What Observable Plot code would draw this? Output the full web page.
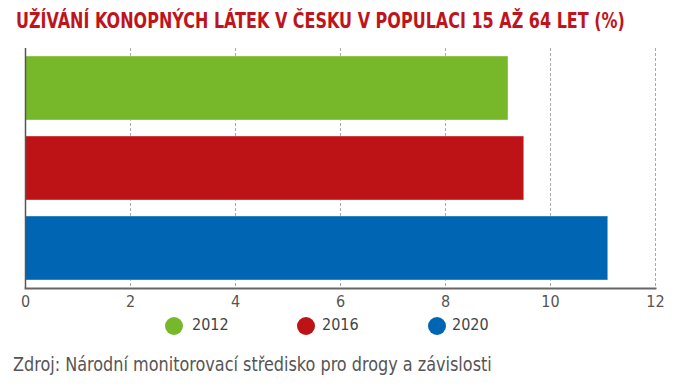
<!DOCTYPE html>
<html><head><meta charset="utf-8">
<script src="https://cdn.jsdelivr.net/npm/d3@7"></script>
<script src="https://cdn.jsdelivr.net/npm/@observablehq/plot@0.6"></script>
<style>
body{margin:0;background:#fff;width:674px;height:387px;overflow:hidden;position:relative;font-family:"DejaVu Sans Condensed",sans-serif;}
#title{position:absolute;top:0;left:0;}
#legend{position:absolute;top:314px;left:0;width:674px;height:24px;font-size:16px;color:#444;}
.dot{position:absolute;top:3px;width:18px;height:18px;border-radius:50%;}
.lab{position:absolute;top:1px;white-space:nowrap;}
#source{position:absolute;top:340px;left:0;}
#chart{position:absolute;top:40px;left:0;}
</style></head>
<body>
<svg id="title" width="674" height="40"><text id="tt" x="0" y="28" fill="#c0141c" font-weight="bold" font-size="22" font-family="DejaVu Sans Condensed, sans-serif">UŽÍVÁNÍ KONOPNÝCH LÁTEK V ČESKU V POPULACI 15 AŽ 64 LET (%)</text></svg>
<div id="chart"></div>
<div id="legend"></div>
<svg id="source" width="674" height="40"><text id="st" x="0" y="31" fill="#555" font-size="20" font-family="DejaVu Sans Condensed, sans-serif">Zdroj: Národní monitorovací středisko pro drogy a závislosti</text></svg>
<script>
const years = ["2012", "2016", "2020"];
const values = [9.2, 9.5, 11.1];
const colors = ["#77b82a", "#bd1316", "#0066b3"];
const xTicks = [0, 2, 4, 6, 8, 10, 12];

function fitText(id, x0, w) {
  const el = document.getElementById(id);
  const natural = el.getComputedTextLength();
  el.setAttribute("transform", `translate(${x0},0) scale(${w / natural},1)`);
}
fitText("tt", 16, 609);
fitText("st", 13, 479);

const data = years.map((y, i) => ({year: y, value: values[i]}));

const plot = Plot.plot({
  width: 674,
  height: 272,
  marginTop: 8,
  marginBottom: 24,
  marginLeft: 25,
  marginRight: 19,
  style: {fontFamily: '"DejaVu Sans Condensed",sans-serif', fontSize: "16px", color: "#555"},
  x: {domain: [0, 12], ticks: xTicks, label: null},
  y: {domain: years, padding: 0, axis: null},
  color: {domain: years, range: colors},
  marks: [
    Plot.ruleX(xTicks.slice(1), {stroke: "#aaa", strokeDasharray: "3,2", strokeWidth: 1}),
    Plot.barX(data, {x: "value", y: "year", fill: "year", insetTop: 8, insetBottom: 8, stroke: "#fff", strokeOpacity: 0.4, strokeWidth: 1}),
    Plot.ruleX([0], {stroke: "#555", strokeWidth: 1.5}),
    Plot.axisX({ticks: xTicks, tickSize: 0, tickPadding: 7, fill: "#555", fontSize: 16}),
    Plot.frame({anchor: "bottom", stroke: "#666", strokeWidth: 2})
  ]
});
document.getElementById("chart").appendChild(plot);

const legend = document.getElementById("legend");
const dotX = [165, 297, 428];
const labX = [192, 322, 452];
years.forEach((y, i) => {
  const d = document.createElement("span");
  d.className = "dot";
  d.style.left = dotX[i] + "px";
  d.style.background = colors[i];
  legend.appendChild(d);
  const t = document.createElement("span");
  t.className = "lab";
  t.style.left = labX[i] + "px";
  t.textContent = y;
  legend.appendChild(t);
});
</script>
</body></html>
